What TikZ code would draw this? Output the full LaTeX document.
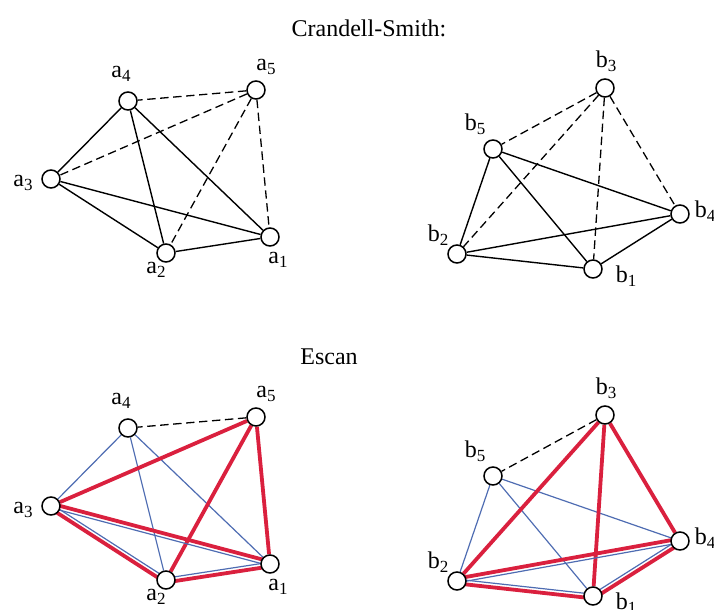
\documentclass[tikz,border=0pt]{standalone}
\usepackage{fontspec}
\setmainfont{Liberation Serif}
\usetikzlibrary{calc, backgrounds}

\definecolor{escred}{RGB}{218,32,62}
\definecolor{escblue}{RGB}{78,108,178}

% vertex label with lowered index
\newcommand\vlab[2]{#1\raisebox{-2pt}{\fontsize{8.5}{9}\selectfont #2}}
% paired red/blue edge: from, to, red side, blue side
\newcommand\dbl[4]{%
  \draw[redge] ($(#1)!1.2pt!#3:(#2)$) -- ($(#2)!1.2pt!#4:(#1)$);
  \draw[bedge] ($(#1)!0.9pt!#4:(#2)$) -- ($(#2)!0.9pt!#3:(#1)$);
}

\begin{document}
\begin{tikzpicture}[
    x=0.5pt, y=-0.5pt,
    font=\fontsize{12}{14}\selectfont,
    vtx/.style={circle, draw, fill=white, line width=0.75pt, minimum size=9pt, inner sep=0pt},
    lbl/.style={inner sep=0pt},
    sedge/.style={line width=0.7pt},
    dedge/.style={line width=0.65pt, dash pattern=on 4.2pt off 2.3pt},
    redge/.style={line width=1.9pt, draw=escred},
    bedge/.style={line width=0.6pt, draw=escblue},
]
\useasboundingbox (0,0) rectangle (714,610);

% ============ titles ============
\node (cs_title) at (369,28) {Crandell-Smith:};
\node (es_title) at (329,357) {Escan};

% ============ Crandell-Smith vertices ============
\foreach \n/\x/\y/\lx/\ly in {1/270/237/278/260, 2/166/253/156/270, 3/51/179/23/183, 4/128/101/121/74, 5/256/90/266/67} {
  \node[vtx] (a\n) at (\x,\y) {};
  \node[lbl] (a\n l) at (\lx,\ly) {\vlab{a}{\n}};
}
\foreach \n/\x/\y/\lx/\ly in {1/593/269/626/276, 2/457/254/438/235, 3/605/88/606/61, 4/680/214/705/211, 5/493/149/475/124} {
  \node[vtx] (b\n) at (\x,\y) {};
  \node[lbl] (b\n l) at (\lx,\ly) {\vlab{b}{\n}};
}

% ============ Escan vertices ============
\begin{scope}[yshift=-163.5pt]
\foreach \n/\x/\y/\lx/\ly in {1/270/237/278/260, 2/166/253/156/270, 3/51/179/23/183, 4/128/101/121/74, 5/256/90/266/67} {
  \node[vtx] (ea\n) at (\x,\y) {};
  \node[lbl] (ea\n l) at (\lx,\ly) {\vlab{a}{\n}};
}
\foreach \n/\x/\y/\lx/\ly in {1/593/269/626/276, 2/457/254/438/235, 3/605/88/606/61, 4/680/214/705/211, 5/493/149/475/124} {
  \node[vtx] (eb\n) at (\x,\y) {};
  \node[lbl] (eb\n l) at (\lx,\ly) {\vlab{b}{\n}};
}
\end{scope}

% ============ edges ============
\begin{scope}[on background layer]
  % Crandell-Smith
  \foreach \u/\v in {4/3, 4/2, 4/1, 3/1, 3/2, 2/1}
    \draw[sedge] (a\u) -- (a\v);
  \foreach \v in {4, 3, 2, 1}
    \draw[dedge] (a5) -- (a\v);
  \foreach \u/\v in {5/2, 5/1, 5/4, 2/4, 2/1, 1/4}
    \draw[sedge] (b\u) -- (b\v);
  \foreach \v in {5, 2, 1, 4}
    \draw[dedge] (b3) -- (b\v);

  % Escan
  \draw[dedge] (ea5) -- (ea4);
  \foreach \v in {3, 2, 1}
    \draw[bedge] (ea4) -- (ea\v);
  \foreach \v in {3, 2, 1}
    \draw[redge] (ea5) -- (ea\v);
  \dbl{ea3}{ea2}{-90}{90}
  \dbl{ea2}{ea1}{-90}{90}
  \dbl{ea3}{ea1}{90}{-90}

  \draw[dedge] (eb3) -- (eb5);
  \foreach \v in {2, 1, 4}
    \draw[bedge] (eb5) -- (eb\v);
  \foreach \v in {2, 1, 4}
    \draw[redge] (eb3) -- (eb\v);
  \dbl{eb2}{eb4}{90}{-90}
  \dbl{eb2}{eb1}{-90}{90}
  \dbl{eb1}{eb4}{-90}{90}
\end{scope}

\end{tikzpicture}
\end{document}
